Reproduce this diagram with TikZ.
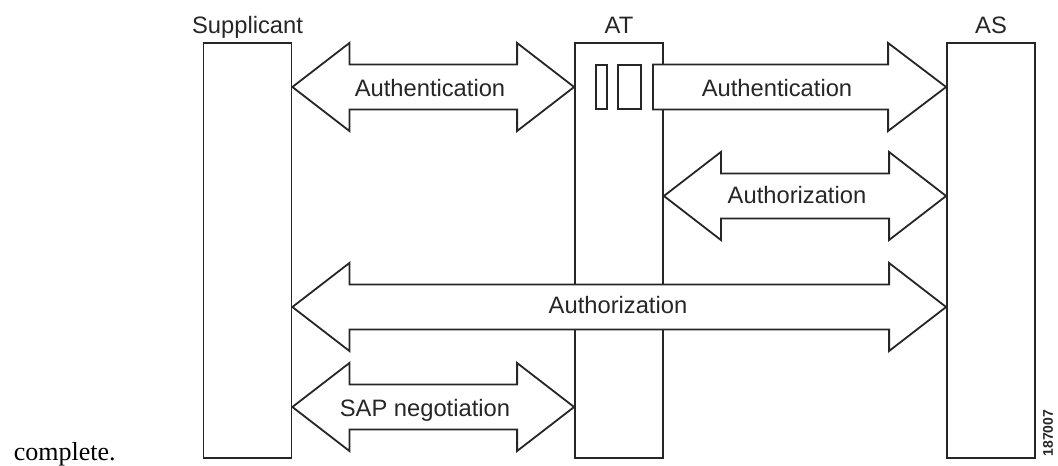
\documentclass[tikz,border=0pt]{standalone}
\usepackage{fontspec}
\setmainfont{Liberation Sans}
\newfontfamily\notefont{Liberation Serif}
\usetikzlibrary{calc}

% block arrow with two heads, from a left anchor to a right anchor, on a row
\newcommand{\dblarrow}[3]{%
  \draw[blockarr] (#1 |- #3) -- ++(57,-44) -- ++(0,21.5)
    -- ($(#2 |- #3)+(-57,-22.5)$) -- ++(0,-21.5) -- (#2 |- #3)
    -- ++(-57,44) -- ++(0,-21.5) -- ($(#1 |- #3)+(57,22.5)$) -- ++(0,21.5) -- cycle;}

\begin{document}
\begin{tikzpicture}[x=0.75pt, y=-0.75pt, line width=1.35pt, color=black!85,
    entity/.style={draw, fill=white, minimum width=66pt, minimum height=311.25pt, inner sep=0pt},
    blockarr/.style={draw, fill=white, line join=miter},
    lbl/.style={font=\fontsize{17.8}{20}\selectfont, anchor=base, inner sep=0pt}]
  \useasboundingbox[fill=white] (0,0) rectangle (1058,466);
  % the three parties
  \node[entity] (sup) at (247.5,250.5) {};
  \node[entity] (at)  at (619,250.5) {};
  \node[entity] (as)  at (991,250.5) {};
  \node[lbl] (suplbl) at ([yshift=6.75pt]sup.north) {Supplicant};
  \node[lbl] (atlbl)  at ([yshift=6.75pt]at.north) {AT};
  \node[lbl] (aslbl)  at ([yshift=6.75pt]as.north) {AS};
  \draw (596,65) rectangle (607,109);
  \draw (618,65) rectangle (641,109);
  % rows of the exchanges
  \coordinate (r1) at (0,87);
  \coordinate (r2) at (0,196);
  \coordinate (r3) at (0,307);
  \coordinate (r4) at (0,407);
  \dblarrow{sup.east}{at.west}{r1}
  \draw[blockarr] ($(at.east |- r1)+(-11,-22.5)$) -- ($(as.west |- r1)+(-58,-22.5)$)
    -- ++(0,-21.5) -- (as.west |- r1) -- ++(-58,44) -- ++(0,-21.5)
    -- ($(at.east |- r1)+(-11,22.5)$) -- cycle;
  \dblarrow{at.east}{as.west}{r2}
  \dblarrow{sup.east}{as.west}{r3}
  \dblarrow{sup.east}{at.west}{r4}
  \node[lbl] (authA)  at (430,97)  {Authentication};
  \node[lbl] (authB)  at (777,97)  {Authentication};
  \node[lbl] (authzA) at (797,204) {Authorization};
  \node[lbl] (authzB) at (618,314) {Authorization};
  \node[lbl] (sap)    at (425,417) {SAP negotiation};
  \node[anchor=base west, inner sep=0pt, text=black, font=\notefont\fontsize{19.5}{22}\selectfont] (note) at (13,461) {complete.};
  \node[rotate=90, inner sep=0pt, font=\fontsize{10.5}{12}\selectfont\bfseries] (figid) at (1048,433) {187007};
\end{tikzpicture}
\end{document}
